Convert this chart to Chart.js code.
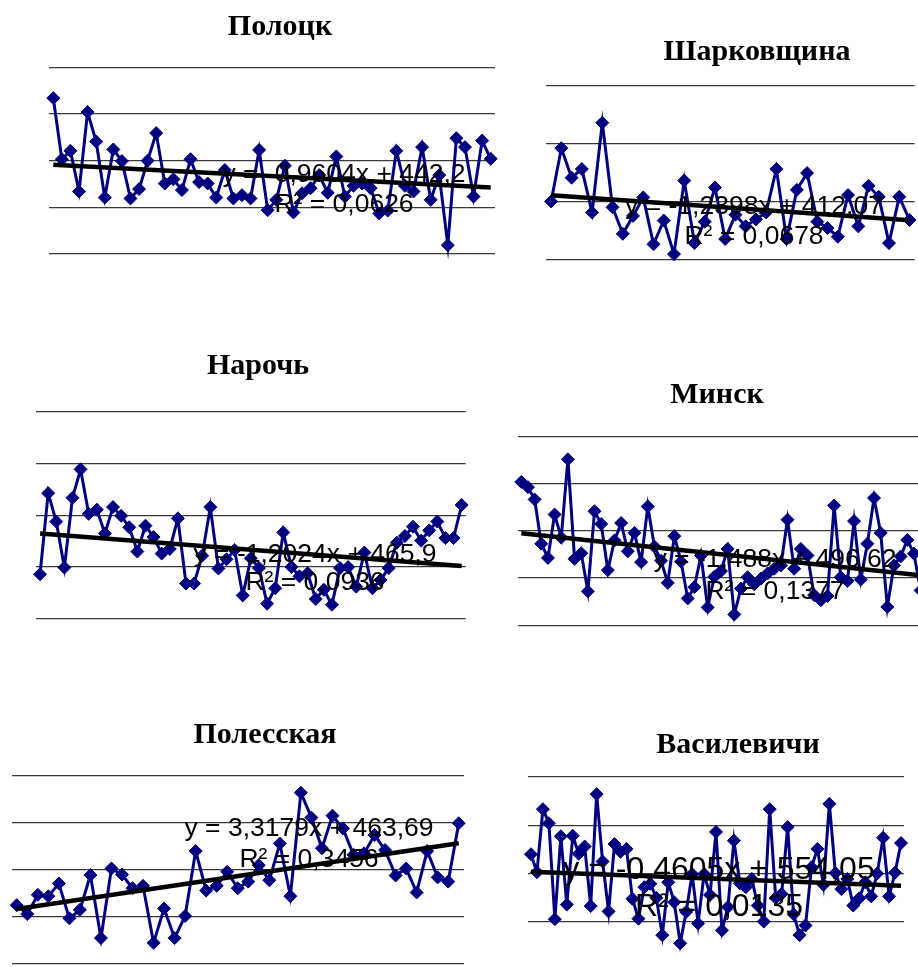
<!DOCTYPE html>
<html><head><meta charset="utf-8">
<script src="https://cdn.jsdelivr.net/npm/chart.js@4.4.1/dist/chart.umd.min.js"></script>
<style>
html,body{margin:0;padding:0;background:#fff;width:918px;height:967px;overflow:hidden;position:relative;}
canvas{position:absolute;display:block;}
</style></head><body>
<script>
// ---------- data ----------
const titles = ['Полоцк','Шарковщина','Нарочь','Минск','Полесская','Василевичи'];
const polotskValues = [584,453,471,384,554,491,371,474,449,369,389,450,509,401,410,387,453,404,401,371,430,369,376,369,473,344,366,439,339,380,391,419,381,459,373,396,401,391,337,343,471,396,384,479,366,419,269,498,479,373,493,454];
const sharkovshchinaValues = [400,492,441,456,381,536,390,344,375,407,326,367,309,436,328,365,424,335,377,357,369,381,456,335,420,449,365,354,339,411,357,427,408,328,408,368];
const narochValues = [386,543,488,399,534,589,503,511,465,516,499,477,430,480,458,426,435,494,368,368,422,516,397,415,433,345,417,398,329,359,467,400,382,388,338,356,327,398,400,362,428,359,375,398,447,460,478,451,471,488,456,456,520];
const minskValues = [604,593,567,473,443,535,486,652,441,453,372,542,515,417,480,517,457,496,434,552,467,437,390,489,435,357,381,448,338,403,415,462,323,378,402,387,399,410,420,427,524,420,462,448,364,353,362,554,402,394,521,397,473,570,496,339,427,446,481,452,374,420];
const polesskayaValues = [475,456,497,494,521,447,465,539,405,553,540,511,516,395,468,405,452,590,506,516,546,511,525,560,528,606,494,714,661,596,665,638,582,585,624,592,538,553,502,590,534,525,649];
const vasilevichiValues = [590,553,683,654,456,627,486,628,591,606,483,714,575,472,611,595,601,498,457,522,529,500,423,532,491,406,471,549,447,549,506,636,433,481,618,530,522,539,484,451,683,500,508,646,466,423,443,563,601,527,694,551,518,539,484,499,532,503,550,624,503,552,613];
const seriesValues = [polotskValues, sharkovshchinaValues, narochValues, minskValues, polesskayaValues, vasilevichiValues];
const trendSlopes = [-0.9604, -1.2398, -1.2024, -1.488, 3.3179, -0.4605];
const trendIntercepts = [442.2, 412.07, 465.9, 496.62, 463.69, 554.05];
const equationLabels = ['y = -0,9604x + 442,2','y = -1,2398x + 412,07','y = -1,2024x + 465,9','y = -1,488x + 496,62','y = 3,3179x + 463,69','y = -0,4605x + 554,05'];
const r2Labels = ['R² = 0,0626','R² = 0,0678','R² = 0,0936','R² = 0,1377','R² = 0,3456','R² = 0,0135'];
const yMins = [250,300,300,300,350,350];
const yMaxs = [650,600,700,700,750,750];

// ---------- layout (page pixels) ----------
const layouts = [
  {plot:{l:49,r:495,t:67.3,b:254},     tx:280, ty:27,  ex:344, ey1:175,   ey2:205,   es:26.5},
  {plot:{l:546,r:914.6,t:85.7,b:259.3},tx:757, ty:52,  ex:754, ey1:206.7, ey2:236.7, es:26.5},
  {plot:{l:36,r:465.7,t:412,b:618.7},  tx:258, ty:366, ex:315, ey1:555,   ey2:583,   es:26.5},
  {plot:{l:518,r:930.6,t:436.7,b:625.3},tx:717,ty:395, ex:775, ey1:560,   ey2:591.7, es:26.5},
  {plot:{l:11.5,r:464,t:775.7,b:964},  tx:265, ty:735, ex:309, ey1:829,   ey2:859.3, es:26.5},
  {plot:{l:528,r:904,t:776.7,b:970.5}, tx:738, ty:745, ex:719, ey1:870,   ey2:906.7, es:32}
];

const panelText = {
  id: 'panelText',
  afterDraw(chart, args, o) {
    const ctx = chart.ctx;
    ctx.save();
    ctx.fillStyle = '#000';
    ctx.textAlign = 'center';
    ctx.textBaseline = 'middle';
    ctx.font = o.titleFont;
    ctx.fillText(o.title, o.tx, o.ty);
    ctx.font = o.eqFont;
    ctx.fillText(o.eq, o.ex, o.ey1);
    ctx.fillText(o.r2, o.ex, o.ey2);
    ctx.restore();
  }
};

const pad = 12;
seriesValues.forEach((vals, i) => {
  const L = layouts[i];
  const p = L.plot;
  const cl = Math.floor(p.l) - pad;
  const ct = Math.floor(L.ty) - 30;
  const cw = Math.ceil(p.r) + pad - cl;
  const ch = Math.ceil(p.b) + pad - ct;
  const cv = document.createElement('canvas');
  cv.width = cw; cv.height = ch;
  cv.style.left = cl + 'px'; cv.style.top = ct + 'px';
  cv.style.width = cw + 'px'; cv.style.height = ch + 'px';
  document.body.appendChild(cv);
  const n = vals.length;
  const a = trendSlopes[i], b = trendIntercepts[i];
  new Chart(cv, {
    type: 'line',
    data: {
      datasets: [
        {data: [{x:1, y:b + a*1}, {x:n, y:b + a*n}], borderColor:'#000', borderWidth:4.5, pointRadius:0, clip:false, order:0},
        {data: vals.map((v, k) => ({x:k+1, y:v})), borderColor:'#000080', borderWidth:3,
         pointStyle:'rectRot', pointRadius:6.5, pointBackgroundColor:'#000080', pointBorderColor:'#000080',
         pointBorderWidth:1, clip:false, order:1}
      ]
    },
    options: {
      responsive:false, animation:false, devicePixelRatio:1,
      layout:{padding:{left:p.l - cl, right:cl + cw - p.r, top:p.t - ct, bottom:ct + ch - p.b}},
      plugins:{
        legend:{display:false}, tooltip:{enabled:false}, title:{display:false},
        panelText:{title:titles[i], eq:equationLabels[i], r2:r2Labels[i],
          tx:L.tx - cl, ty:L.ty - ct, ex:L.ex - cl, ey1:L.ey1 - ct, ey2:L.ey2 - ct,
          titleFont:"bold 30px 'Liberation Serif'", eqFont:L.es + "px 'Liberation Sans'"}
      },
      scales:{
        x:{type:'linear', min:0.5, max:n + 0.5, display:false},
        y:{type:'linear', min:yMins[i], max:yMaxs[i], display:true,
           ticks:{display:false, stepSize:100},
           grid:{drawTicks:false, color:'#3a3a3a', lineWidth:1.3},
           border:{display:false}}
      }
    },
    plugins:[panelText]
  });
});
</script>
</body></html>
